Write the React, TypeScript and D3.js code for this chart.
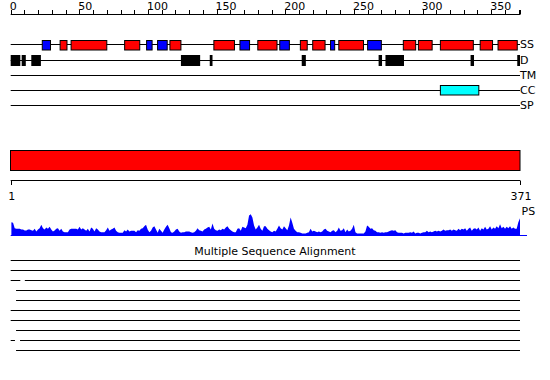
import React from "react";
import * as d3 from "d3";

const SEQ_LENGTH = 371;
const TOP_TICK_LABELS = [0, 50, 100, 150, 200, 250, 300, 350];
const TRACK_LABELS = ["SS", "D", "TM", "CC", "SP"];

// secondary structure: [start, end, type] (H = helix red, E = strand blue)
const SS_START = [23, 36, 44, 83, 99, 107, 116, 148, 167, 180, 196, 211, 220, 233, 239, 260, 286, 297, 313, 342, 355];
const SS_END = [29, 41, 70, 94, 103, 114, 124, 163, 174, 194, 203, 216, 229, 236, 257, 270, 295, 307, 337, 351, 369];
const SS_TYPE = ["E", "H", "H", "H", "E", "E", "H", "H", "E", "H", "E", "H", "H", "E", "H", "E", "H", "H", "H", "H", "H"];

// disorder segments
const D_START = [0, 8, 15, 124, 145, 212, 268, 273, 335, 369];
const D_END = [7, 11, 22, 138, 147, 215, 270.5, 286.5, 337.5, 371];

// coiled coil
const CC_START = [313];
const CC_END = [341];

// PS profile, evenly sampled along the sequence
const PS_SCORES = [
  13.3, 12.7, 7.3, 6.7, 6.7, 6.7, 6, 6, 5, 5, 6, 6, 5.3, 4.7, 6.7, 4, 6, 7.3, 10.7, 7.3,
  6, 8, 6.7, 8.7, 6, 4, 5, 6.7, 7.3, 4.7, 6.7, 4, 3.3, 3.3, 3.3, 6, 6.7, 6.7, 6.7, 6.7,
  6, 8.7, 6, 7.3, 6, 4.7, 6.7, 4, 8, 6.7, 4, 7.3, 6, 4, 3.3, 3.3, 3.3, 5.3, 8, 4.7,
  6, 6.7, 8, 4.7, 3.3, 2.7, 2.7, 2.7, 5.3, 4, 6, 4, 4.7, 4.7, 4.7, 3.3, 5.3, 4.7, 6.7, 7.3,
  9.3, 10.7, 6, 3.3, 4.7, 8, 9.3, 6, 2.7, 6.7, 4.7, 2.7, 6, 8.7, 10.7, 7.3, 3.3, 2.7, 4, 6,
  6.7, 4,
  2.7, 3.3, 3.3, 4, 4, 4, 3.3, 2.7, 3.3, 4.7, 7.3, 5.3, 4.7, 4, 6, 6.7, 8, 8.7, 6, 12,
  6.7, 5.3, 4.7, 6, 5.3, 6.7, 6, 8, 9.3, 6.7, 5.3, 4, 3.3, 3.3, 6.7, 7.3, 4.7, 8.7, 8, 7.3,
  10.7, 20, 21.3, 18, 10, 6, 8, 10.7, 6.7, 4.7, 9.3, 9.3, 6.7, 5.3, 4, 3.3, 4.7, 4, 6.7, 10,
  7.3, 6, 9.3, 7.3, 5.3, 10, 18, 12.7, 6.7, 4.7, 3.3, 3.3, 2.7, 2, 2, 2, 2.7, 3.3, 6.7, 4,
  4.7, 4, 3.3, 4, 3.3, 4, 6, 6.7, 4.7, 4, 3.3, 4.7, 5.3, 3.3, 4.7, 8, 4.7, 5.3, 7.3, 3.3,
  6, 4,
  4.7, 6.7, 10.7, 3.3, 2, 2, 2, 2, 2, 4, 10, 8.7, 6.7, 7.3, 5.3, 4.7, 3.3, 3.3, 2.7, 3.3,
  2.7, 3.3, 3.3, 4, 4.7, 5.3, 4.7, 5.3, 3.3, 2.7, 2.7, 2.7, 2, 2.7, 2.7, 2.7, 3.3, 2.7, 4, 2,
  2.7, 2.7, 2, 2.7, 3.3, 3.3, 4.7, 3.3, 4, 3.3, 4, 4.7, 4, 4.7, 4, 4.7, 6, 4.7, 5.3, 5.3,
  6, 4.7, 6, 5.3, 4.7, 6.7, 5.3, 6.7, 6, 7.3, 4.7, 6.7, 8, 4.7, 6.7, 7.3, 6, 8, 4.7, 7.3,
  6, 8.7, 6, 6.7, 9.3, 6, 8, 6.7, 9.3, 7.3, 11.3, 7.3, 8.7, 6.7, 8.7, 7.3, 9.3, 6.7, 8, 6.7,
  6.7, 13.3, 17.3,
];

// multiple sequence alignment rows: segments [start, end]
const MSA_ROWS: [number, number][][] = [
  [[0, 371]],
  [[0, 371]],
  [[0, 7], [10.3, 371]],
  [[3.9, 371]],
  [[3.9, 371]],
  [[0, 371]],
  [[0, 371]],
  [[3.9, 371]],
  [[0, 3.1], [6.8, 371]],
  [[3.9, 371]],
];

const FONT = "DejaVu Sans, Verdana, sans-serif";

export default function App() {
  const x = d3.scaleLinear().domain([0, SEQ_LENGTH]).range([10.7, 520]);
  const xb = d3.scaleLinear().domain([1, SEQ_LENGTH]).range([10.7, 520]);
  const topTicks = d3.range(0, 371, 10).concat([SEQ_LENGTH]);
  const trackY = d3.scaleOrdinal<string, number>().domain(TRACK_LABELS).range([44.5, 60.5, 75.5, 90.5, 105.5]);

  const idx = d3.scaleLinear().domain([0, PS_SCORES.length - 1]).range([0.5, SEQ_LENGTH]);
  const yPS = d3.scaleLinear().domain([0, 30]).range([235.5, 205.5]);
  const area = d3
    .area<number>()
    .x((_, i) => x(idx(i)))
    .y0(yPS(0))
    .y1((d) => yPS(d));

  const msaY = d3.scaleLinear().domain([0, 9]).range([260.5, 350.5]);

  return (
    <svg width={550} height={380} style={{ position: "absolute", left: 0, top: 0, background: "#fff" }} fontFamily={FONT} fontSize={11}>
      <rect width={550} height={380} fill="#fff" />
      {/* top axis */}
      <line x1={x(0)} x2={x(SEQ_LENGTH)} y1={14.5} y2={14.5} stroke="#000" />
      {topTicks.map((t, i) => (
        <line key={i} x1={Math.round(x(t)) + 0.5} x2={Math.round(x(t)) + 0.5} y1={10} y2={14.5} stroke="#000" />
      ))}
      {TOP_TICK_LABELS.map((t) => (
        <text key={t} x={x(t) - 1} y={10} textAnchor="start">
          {t}
        </text>
      ))}

      {/* track lines */}
      {TRACK_LABELS.map((l) => (
        <g key={l}>
          <line x1={x(0)} x2={x(SEQ_LENGTH)} y1={trackY(l)} y2={trackY(l)} stroke="#000" />
          <text x={520} y={trackY(l)} dy="0.36em">
            {l}
          </text>
        </g>
      ))}

      {/* SS */}
      {SS_START.map((s, i) => (
        <rect
          key={i}
          x={x(s)}
          y={40.5}
          width={x(SS_END[i]) - x(s)}
          height={9.5}
          fill={SS_TYPE[i] === "H" ? "#ff0000" : "#0000ff"}
          stroke="#000"
          strokeWidth={1}
        />
      ))}
      {/* D */}
      {D_START.map((s, i) => (
        <rect key={i} x={x(s)} y={55} width={x(D_END[i]) - x(s)} height={11} fill="#000" />
      ))}
      {/* CC */}
      {CC_START.map((s, i) => (
        <rect key={i} x={x(s)} y={85.5} width={x(CC_END[i]) - x(s)} height={9.5} fill="#00ffff" stroke="#000" />
      ))}

      {/* domain bar */}
      <rect x={10.5} y={150.5} width={x(SEQ_LENGTH) - 10.5} height={20} fill="#ff0000" stroke="#000" />
      <line x1={xb(1)} x2={xb(SEQ_LENGTH)} y1={180.5} y2={180.5} stroke="#000" />
      {[1, SEQ_LENGTH].map((t) => (
        <g key={t}>
          <line x1={Math.round(xb(t)) + 0.5} x2={Math.round(xb(t)) + 0.5} y1={180.5} y2={185} stroke="#000" />
          <text x={xb(t) + 1} y={200} textAnchor="middle">
            {t}
          </text>
        </g>
      ))}

      {/* PS */}
      <path d={area(PS_SCORES) || ""} fill="#0000ff" />
      <line x1={x(0)} x2={527} y1={235.5} y2={235.5} stroke="#0000ff" />
      <text x={521.5} y={215}>
        PS
      </text>

      {/* MSA */}
      <text x={275} y={255} textAnchor="middle">
        Multiple Sequence Alignment
      </text>
      {MSA_ROWS.map((row, r) =>
        row.map((seg, j) => (
          <line key={`${r}-${j}`} x1={x(seg[0])} x2={x(seg[1])} y1={msaY(r)} y2={msaY(r)} stroke="#000" />
        ))
      )}
    </svg>
  );
}
